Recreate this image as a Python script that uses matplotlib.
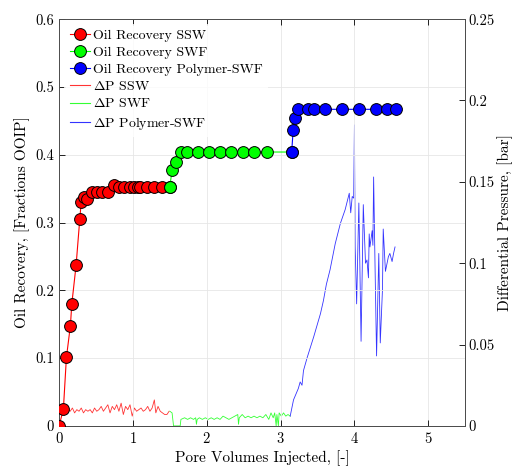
import matplotlib
matplotlib.use("Agg")
import matplotlib.pyplot as plt
from matplotlib.ticker import FormatStrFormatter
from matplotlib.lines import Line2D

plt.rcParams['font.family'] = 'serif'
plt.rcParams['font.serif'] = ['cmr10']
plt.rcParams['mathtext.fontset'] = 'cm'
plt.rcParams['axes.formatter.use_mathtext'] = True
plt.rcParams['font.size'] = 10.5

# oil recovery (fractions OOIP) vs pore volumes injected
pv_ssw = [0.0, 0.058, 0.099, 0.153, 0.172, 0.23, 0.28, 0.30, 0.335, 0.375, 0.443, 0.51,
          0.58, 0.66, 0.745, 0.81, 0.88, 0.96, 1.01, 1.07, 1.10, 1.19, 1.29, 1.40, 1.50]
rf_ssw = [0.0, 0.025, 0.101, 0.148, 0.180, 0.237, 0.305, 0.331, 0.338, 0.335, 0.345, 0.345,
          0.345, 0.345, 0.355, 0.353, 0.353, 0.353, 0.353, 0.353, 0.353, 0.353, 0.353, 0.353, 0.353]
pv_swf = [1.50, 1.53, 1.58, 1.65, 1.73, 1.88, 2.03, 2.18, 2.33, 2.49, 2.64, 2.82, 3.15]
rf_swf = [0.353, 0.378, 0.390, 0.404, 0.404, 0.404, 0.404, 0.404, 0.404, 0.404, 0.404, 0.404, 0.404]
pv_pol = [3.15, 3.17, 3.19, 3.23, 3.37, 3.45, 3.60, 3.83, 4.06, 4.29, 4.44, 4.56]
rf_pol = [0.404, 0.436, 0.454, 0.467, 0.467, 0.467, 0.467, 0.467, 0.467, 0.467, 0.467, 0.467]

# differential pressure (bar)
dp_ssw_x = [0.03, 0.06, 0.09, 0.12, 0.15, 0.18, 0.21, 0.24, 0.27, 0.30, 0.33, 0.36, 0.39,
            0.42, 0.45, 0.48, 0.51, 0.54, 0.57, 0.60, 0.63, 0.66, 0.69, 0.72, 0.75, 0.78,
            0.81, 0.84, 0.87, 0.90, 0.93, 0.96, 0.99, 1.02, 1.05, 1.08, 1.11, 1.14, 1.17,
            1.20, 1.23, 1.26, 1.29, 1.31, 1.34, 1.37, 1.40, 1.43, 1.46, 1.49]
dp_ssw = [0.013, 0.011, 0.008, 0.010, 0.009, 0.011, 0.008, 0.010, 0.009, 0.011, 0.008, 0.010,
          0.009, 0.010, 0.008, 0.011, 0.009, 0.010, 0.012, 0.009, 0.011, 0.013, 0.008, 0.012,
          0.010, 0.013, 0.009, 0.014, 0.007, 0.012, 0.010, 0.013, 0.006, 0.011, 0.009, 0.010,
          0.011, 0.009, 0.010, 0.012, 0.009, 0.011, 0.016, 0.008, 0.012, 0.009, 0.008, 0.007,
          0.007, 0.009]
dp_swf_x = [1.50, 1.53, 1.55, 1.64, 1.65, 1.70, 1.74, 1.78, 1.82, 1.85, 1.86, 1.87, 1.90,
            1.94, 1.98, 2.02, 2.06, 2.10, 2.14, 2.18, 2.22, 2.26, 2.30, 2.34, 2.38, 2.42,
            2.43, 2.44, 2.48, 2.52, 2.56, 2.60, 2.64, 2.68, 2.72, 2.76, 2.80, 2.84, 2.87,
            2.90, 2.92, 2.94, 2.95, 2.97, 2.98, 3.01, 3.04, 3.07, 3.10, 3.13]
dp_swf = [0.009, 0.008, 0.000, 0.000, 0.004, 0.005, 0.004, 0.005, 0.004, 0.005, 0.001, 0.004,
          0.005, 0.004, 0.005, 0.004, 0.005, 0.004, 0.005, 0.004, 0.006, 0.005, 0.004, 0.005,
          0.006, 0.007, 0.001, 0.005, 0.007, 0.005, 0.006, 0.005, 0.006, 0.005, 0.006, 0.005,
          0.007, 0.004, 0.008, 0.005, 0.008, 0.000, 0.007, 0.000, 0.008, 0.006, 0.008, 0.006,
          0.007, 0.006]
dp_pol_x = [3.13, 3.175, 3.24, 3.265, 3.29, 3.31, 3.36, 3.45, 3.54, 3.58, 3.62, 3.67, 3.74,
            3.81, 3.875, 3.93, 3.95, 3.97, 3.99, 4.00, 4.01, 4.03, 4.06, 4.09, 4.12, 4.15,
            4.17, 4.19, 4.20, 4.21, 4.24, 4.25, 4.26, 4.28, 4.30, 4.33, 4.35, 4.38, 4.39,
            4.42, 4.46, 4.48, 4.51, 4.53, 4.55]
dp_pol = [0.006, 0.016, 0.023, 0.027, 0.025, 0.034, 0.042, 0.055, 0.069, 0.077, 0.087, 0.096,
          0.112, 0.1245, 0.133, 0.143, 0.131, 0.141, 0.140, 0.185, 0.110, 0.075, 0.137, 0.052,
          0.136, 0.100, 0.102, 0.091, 0.118, 0.110, 0.120, 0.111, 0.153, 0.096, 0.043, 0.106,
          0.051, 0.084, 0.121, 0.095, 0.104, 0.106, 0.101, 0.106, 0.110]

fig = plt.figure(figsize=(5.14, 4.67), dpi=100)
ax = fig.add_axes([0.115, 0.088, 0.79, 0.871])
ax2 = ax.twinx()

mk = dict(marker='o', markersize=8.5, markeredgecolor='k', markeredgewidth=0.7, lw=0.8)
ax.plot(pv_ssw, rf_ssw, color='r', markerfacecolor='r', zorder=3, **mk)
ax.plot(pv_swf, rf_swf, color=(0, 1, 0), markerfacecolor=(0, 1, 0), zorder=3, **mk)
ax.plot(pv_pol, rf_pol, color='b', markerfacecolor='b', zorder=3, **mk)
ax.set_zorder(ax2.get_zorder() + 1)
ax.patch.set_visible(False)

ax2.plot(dp_ssw_x, dp_ssw, color=(1, 0.2, 0.2), lw=0.6)
ax2.plot(dp_swf_x, dp_swf, color=(0.2, 1, 0.2), lw=0.6)
ax2.plot(dp_pol_x, dp_pol, color=(0.2, 0.2, 1), lw=0.6)

ax.set_xlim(0, 5.5)
ax.set_ylim(0, 0.6)
ax2.set_ylim(0, 0.25)
ax.set_xticks([0, 1, 2, 3, 4, 5])
ax.set_yticks([0, 0.1, 0.2, 0.3, 0.4, 0.5, 0.6])
ax2.set_yticks([0, 0.05, 0.1, 0.15, 0.2, 0.25])
ax.yaxis.set_major_formatter(FormatStrFormatter('%g'))
ax2.yaxis.set_major_formatter(FormatStrFormatter('%g'))
ax.grid(True, color='0.9', lw=0.6)
ax.tick_params(direction='in', top=True, length=4, width=0.6)
ax.tick_params(axis='x', pad=4)
ax2.tick_params(direction='in', length=4, width=0.6, pad=2)
for a in (ax, ax2):
    for s in a.spines.values():
        s.set_linewidth(0.7)
        s.set_color('0.3')

ax.set_xlabel('Pore Volumes Injected, [-]', fontsize=11, labelpad=3)
ax.set_ylabel('Oil Recovery, [Fractions OOIP]', fontsize=11, labelpad=4)
ax2.set_ylabel('Differential Pressure, [bar]', fontsize=11, labelpad=2)

handles = [
    Line2D([], [], color='r', markerfacecolor='r', **mk),
    Line2D([], [], color=(0, 1, 0), markerfacecolor=(0, 1, 0), **mk),
    Line2D([], [], color='b', markerfacecolor='b', **mk),
    Line2D([], [], color=(1, 0.2, 0.2), lw=0.8),
    Line2D([], [], color=(0.2, 1, 0.2), lw=0.8),
    Line2D([], [], color=(0.2, 0.2, 1), lw=0.8),
]
labels = ['Oil Recovery SSW', 'Oil Recovery SWF', 'Oil Recovery Polymer-SWF',
          r'$\Delta$P SSW', r'$\Delta$P SWF', r'$\Delta$P Polymer-SWF']
leg = ax.legend(handles, labels, loc='upper left', bbox_to_anchor=(0.0, 1.0),
                fontsize=10, handlelength=1.45, handletextpad=0.25, labelspacing=0.3,
                borderaxespad=0.35, frameon=True, fancybox=False)
leg.get_frame().set_edgecolor('none')
leg.get_frame().set_facecolor('white')

plt.savefig('out.png', dpi=100)
